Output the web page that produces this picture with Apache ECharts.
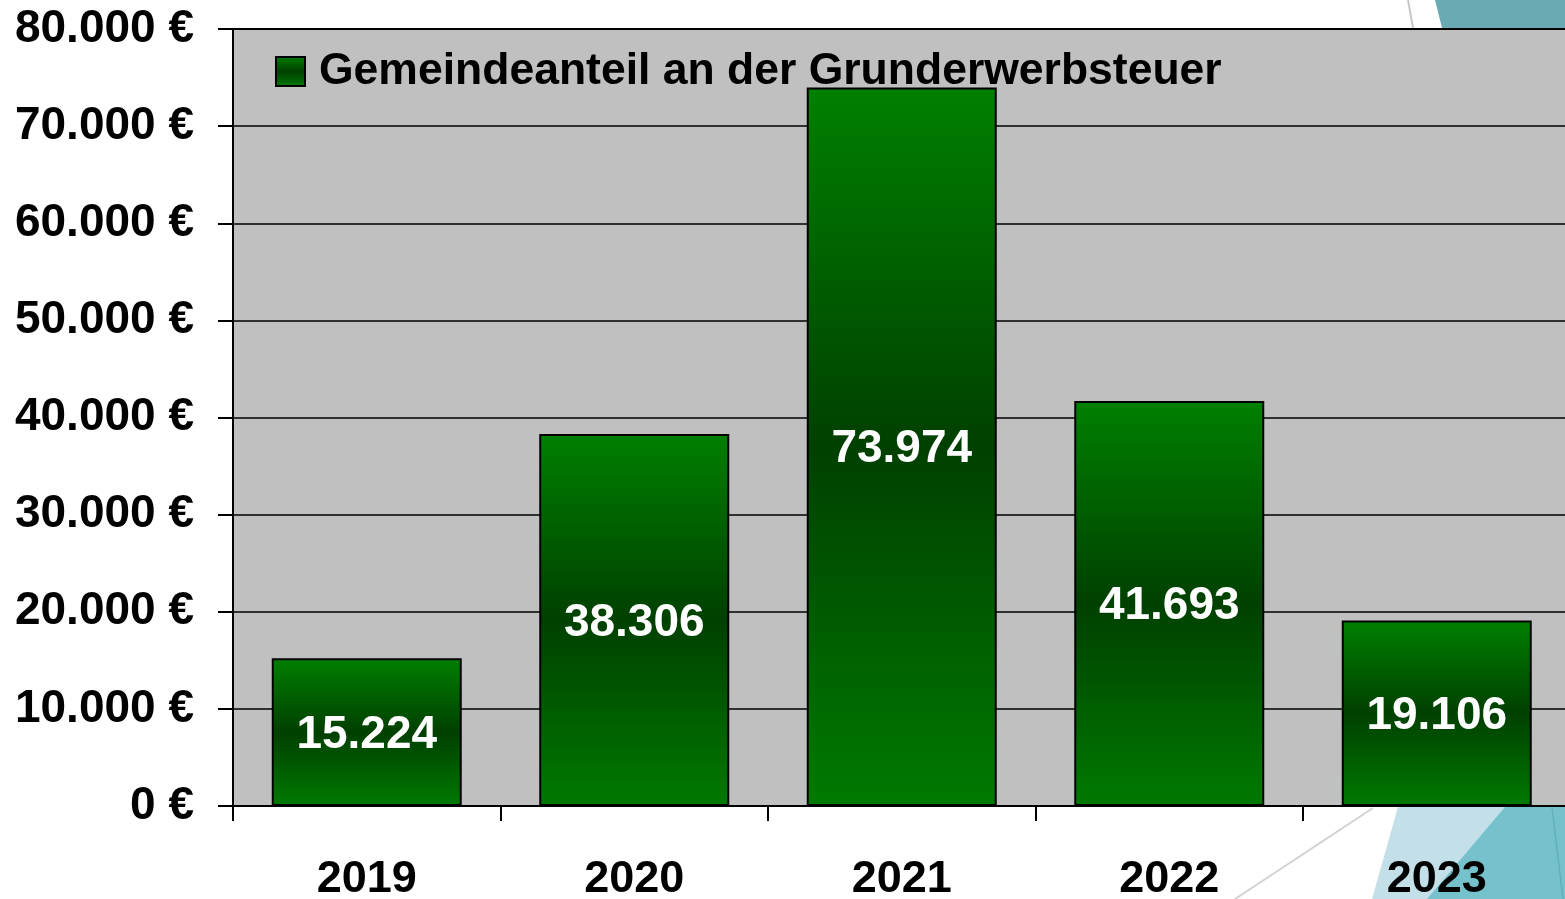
<!DOCTYPE html>
<html>
<head>
<meta charset="utf-8">
<script src="https://cdn.jsdelivr.net/npm/echarts@6/dist/echarts.min.js"></script>
<style>
  html, body { margin: 0; padding: 0; background: #fff; }
  #main { width: 1565px; height: 899px; }
</style>
</head>
<body>
<div id="main"></div>
<script>
// chart data
const years = ['2019', '2020', '2021', '2022', '2023'];
const amounts = [15224, 38306, 73974, 41693, 19106];
const seriesName = 'Gemeindeanteil an der Grunderwerbsteuer';
const yMax = 80000;
const yStep = 10000;

// 12345 -> "12.345"
const fmt = (v) => String(Math.round(v)).replace(/\B(?=(\d{3})+(?!\d))/g, '.');

const FONT = '"Liberation Sans", Arial, sans-serif';

const barFill = new echarts.graphic.LinearGradient(0, 0, 0, 1, [
  { offset: 0, color: '#008000' },
  { offset: 0.5, color: '#004000' },
  { offset: 1, color: '#007a00' }
]);

const chart = echarts.init(document.getElementById('main'));

chart.setOption({
  backgroundColor: '#ffffff',
  animation: false,
  // slide decoration around the chart
  graphic: [
    { type: 'polygon', z: -10, shape: { points: [[1435, 0], [1565, 0], [1565, 28], [1442, 28]] }, style: { fill: '#69aab3' } },
    { type: 'line', z: -9, shape: { x1: 1408, y1: 0, x2: 1413, y2: 28 }, style: { stroke: '#c8c8c8', lineWidth: 2 } },
    { type: 'polygon', z: -10, shape: { points: [[1398, 807], [1565, 807], [1565, 899], [1372, 899]] }, style: { fill: '#c3dfe8' } },
    { type: 'polygon', z: -9, shape: { points: [[1505, 807], [1565, 807], [1565, 899], [1427, 899]] }, style: { fill: '#75c2cc' } },
    { type: 'line', z: -8, shape: { x1: 1552, y1: 807, x2: 1563, y2: 899 }, style: { stroke: '#62b0bb', lineWidth: 1.5 } },
    { type: 'line', z: -8, shape: { x1: 1373, y1: 808, x2: 1235, y2: 899 }, style: { stroke: '#d2d2d2', lineWidth: 2 } }
  ],
  grid: {
    left: 233,
    top: 29,
    right: -5.5,
    bottom: 93,
    outerBoundsMode: 'none',
    containLabel: false,
    show: true,
    backgroundColor: '#c0c0c0',
    borderColor: '#000',
    borderWidth: 2
  },
  legend: {
    left: 270,
    top: 44,
    itemWidth: 29,
    itemHeight: 29,
    icon: 'rect',
    textStyle: { fontFamily: FONT, fontWeight: 'bold', fontSize: 44.5, color: '#000', padding: [2, 0, 0, 9] },
    data: [seriesName]
  },
  xAxis: {
    type: 'category',
    data: years,
    axisLine: { lineStyle: { color: '#000', width: 2 } },
    axisTick: { show: true, length: 15, lineStyle: { color: '#000', width: 2 } },
    axisLabel: { margin: 51, fontFamily: FONT, fontWeight: 'bold', fontSize: 45, color: '#000' }
  },
  yAxis: {
    type: 'value',
    min: 0,
    max: yMax,
    interval: yStep,
    axisLine: { show: true, lineStyle: { color: '#000', width: 2 } },
    axisTick: { show: true, length: 15, lineStyle: { color: '#000', width: 2 } },
    splitLine: { lineStyle: { color: '#000', width: 1.5 } },
    axisLabel: {
      margin: 39,
      padding: [4, 0, 0, 0],
      fontFamily: FONT,
      fontWeight: 'bold',
      fontSize: 46,
      color: '#000',
      formatter: (v) => fmt(v) + ' €'
    }
  },
  series: [{
    name: seriesName,
    type: 'bar',
    data: amounts,
    barWidth: 190,
    itemStyle: { color: barFill, borderColor: '#000', borderWidth: 2 },
    label: {
      show: true,
      position: 'inside',
      offset: [0, 3],
      fontFamily: FONT,
      fontWeight: 'bold',
      fontSize: 46,
      color: '#fff',
      formatter: (p) => fmt(p.value)
    }
  }]
});
</script>
</body>
</html>
